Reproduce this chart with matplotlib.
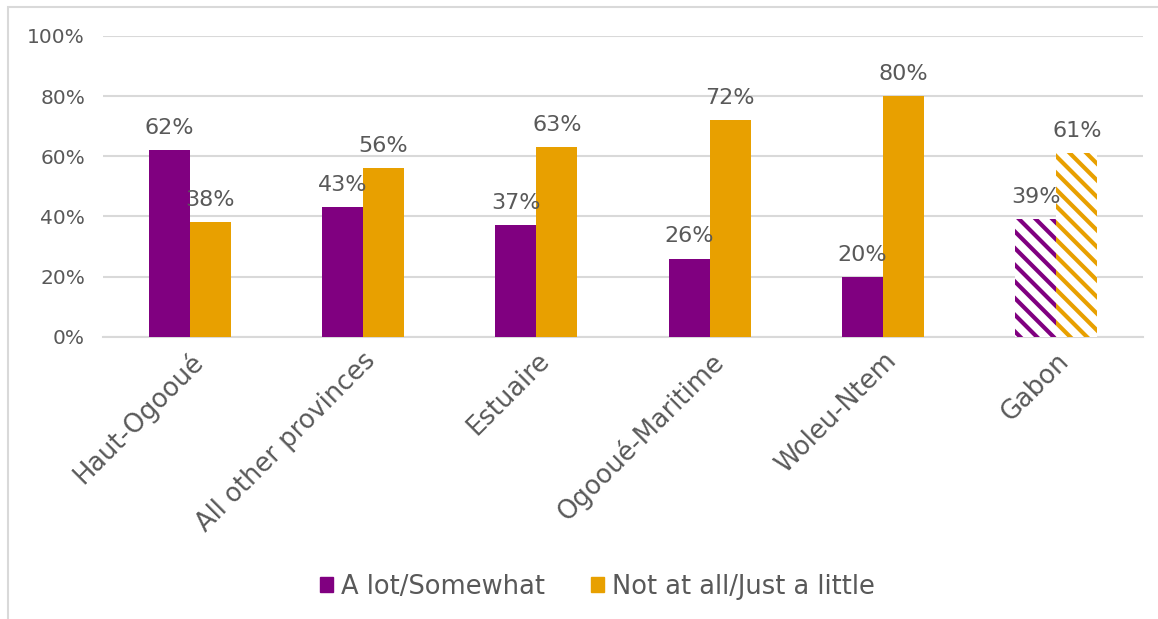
import numpy as np
import matplotlib.pyplot as plt
from matplotlib.patches import Rectangle

provinces = ['Haut-Ogooué', 'All other provinces', 'Estuaire',
             'Ogooué-Maritime', 'Woleu-Ntem', 'Gabon']
a_lot = [62, 43, 37, 26, 20, 39]
not_at_all = [38, 56, 63, 72, 80, 61]
series_names = ['A lot/Somewhat', 'Not at all/Just a little']

purple = '#800080'
orange = '#E8A000'
grey_text = '#595959'

plt.rcParams['font.family'] = ['DejaVu Sans']
plt.rcParams['hatch.linewidth'] = 3.0

fig = plt.figure(figsize=(11.58, 6.19), dpi=100)
ax = fig.add_axes([0.089, 0.456, 0.898, 0.486])

# cadre gris clair autour du graphique
fig.patches.append(Rectangle((8 / 1158, -0.05), 1.1, 1 - 7 / 619 + 0.05,
                             transform=fig.transFigure, fill=False,
                             edgecolor='#D9D9D9', linewidth=1.5))

x = np.arange(len(provinces))
w = 0.237
n = len(provinces)

for i in range(n):
    hatched = provinces[i] == 'Gabon'
    for j, (vals, col) in enumerate([(a_lot, purple), (not_at_all, orange)]):
        xpos = x[i] + (j - 0.5) * w
        if hatched:
            ax.bar(xpos, vals[i], w, facecolor='white', edgecolor=col,
                   hatch='\\\\', linewidth=0, zorder=3)
        else:
            ax.bar(xpos, vals[i], w, color=col, zorder=3)
        ax.text(xpos, vals[i] + 4.0, f'{vals[i]}%', ha='center', va='bottom',
                fontsize=16, color=grey_text, zorder=4)

ax.set_xlim(-0.5, n - 0.5)
ax.set_ylim(0, 100)
ax.set_yticks(range(0, 101, 20))
ax.set_yticklabels([f'{v}%' for v in range(0, 101, 20)])
ax.yaxis.grid(True, color='#D9D9D9', linewidth=1.5, zorder=0)
ax.set_axisbelow(True)
for s in ['top', 'right', 'left']:
    ax.spines[s].set_visible(False)
ax.spines['bottom'].set_color('#D9D9D9')
ax.spines['bottom'].set_linewidth(1.5)
ax.tick_params(axis='both', length=0, labelsize=14.5, colors=grey_text)
ax.tick_params(axis='y', pad=13)

ax.set_xticks(x)
ax.set_xticklabels(provinces, rotation=45, ha='right', rotation_mode='anchor',
                   fontsize=18.5)
ax.tick_params(axis='x', pad=8)

handles = [Rectangle((0, 0), 1, 1, color=purple),
           Rectangle((0, 0), 1, 1, color=orange)]
fig.legend(handles, series_names, loc='center', bbox_to_anchor=(0.516, 0.052),
           ncol=2, frameon=False, fontsize=18.5, handlelength=0.5,
           handleheight=0.5, handletextpad=0.3, columnspacing=1.8,
           labelcolor=grey_text)

fig.savefig('out.png', dpi=100, facecolor='white')
